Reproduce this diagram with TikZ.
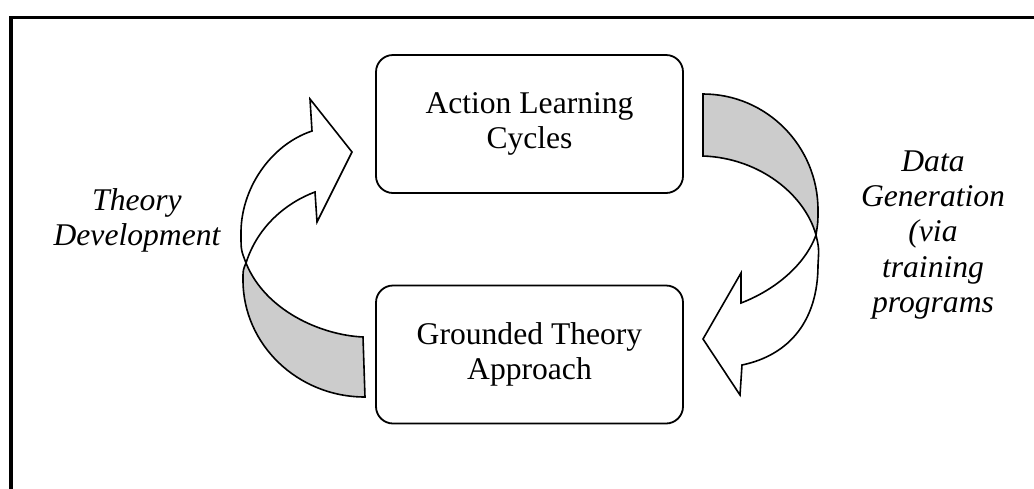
\documentclass[tikz,border=0pt]{standalone}
\usepackage{fontspec}
\setmainfont{Liberation Serif}
\tikzset{
  stage box/.style={draw, line width=0.9pt, rounded corners=8.5pt,
    minimum width=153.5pt, minimum height=69pt, align=center,
    font=\fontsize{15.8}{17.6}\selectfont},
  cycle label/.style={align=center, font=\fontsize{15.8}{17.6}\selectfont\itshape},
  ribbon back/.style={draw, line width=0.8pt, fill=black!20},
  ribbon front/.style={draw, line width=0.8pt, fill=white},
}

\begin{document}
\begin{tikzpicture}[x=0.5pt,y=-0.5pt]
    \useasboundingbox (0,0) rectangle (1034,488);
    \draw[line width=1.8pt] (1040,17.5) -- (11.2,17.5) -- (11.2,495);
    %
    \node (alc) at (529.5,124) [stage box] {Action Learning\\Cycles};
    \node (gta) at (529.5,354.5) [stage box] {Grounded Theory\\Approach};
    %
    \node (theory) at (137,220) [cycle label] {Theory\\Development};
    \node (data) at (933,235) [cycle label] {Data\\Generation\\(via\\training\\programs};
    %left curved arrow, back then front
    \draw[ribbon back] (246,263) .. controls (243,270) .. (243,280)
        .. controls (243,344.6) and (297.7,397) .. (365,397) -- (363,337)
        .. controls (320,335) and (265,310) .. (246,263) -- cycle;
    \draw[ribbon front] (246,263) .. controls (258,225) and (288,202) .. (315,192)
        -- (317,222) -- (352,152) -- (310,99) -- (312,131)
        .. controls (270,145) and (240,190) .. (241,235)
        .. controls (241,250) .. (246,263) -- cycle;
    %right curved arrow, back then front
    \draw[ribbon back] (703,156) -- (703,94)
        .. controls (766.5,94) and (818,146) .. (818,210)
        .. controls (818,222) .. (816,235)
        .. controls (805,195) and (760,158) .. (703,156) -- cycle;
    \draw[ribbon front] (816,235) .. controls (819,248) .. (818,265)
        .. controls (818,320) and (790,355) .. (742,365)
        -- (740,395) -- (703,339) -- (741,273) -- (741,303)
        .. controls (775,290) and (805,265) .. (816,235) -- cycle;
\end{tikzpicture}
\end{document}
